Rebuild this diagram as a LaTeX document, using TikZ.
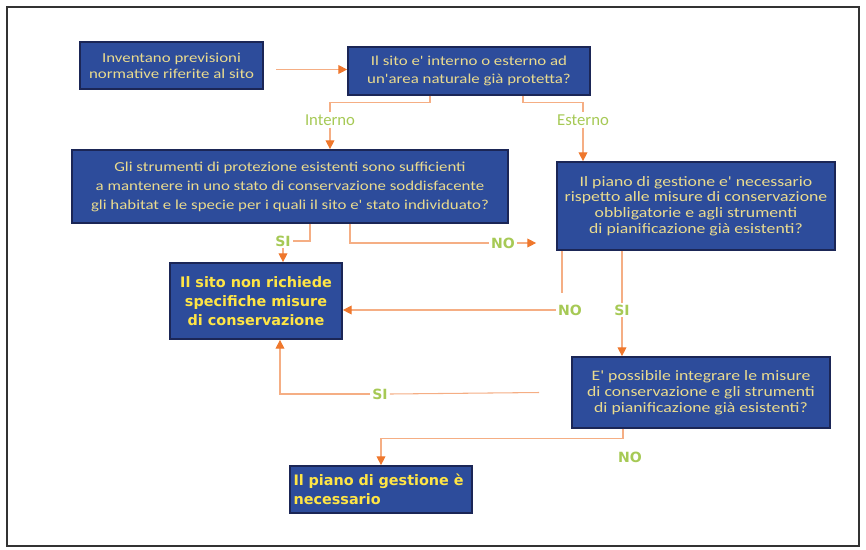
\documentclass[tikz,border=0pt]{standalone}
\usepackage{fontspec}
\setmainfont{Carlito}
\newfontfamily\boxfont[FakeStretch=1.23]{Carlito}
\newfontfamily\heavyfont{DejaVu Sans}
\usetikzlibrary{arrows.meta,positioning,calc}

\definecolor{boxblue}{HTML}{2D4C9B}
\definecolor{boxedge}{HTML}{1B2656}
\definecolor{paleyellow}{HTML}{EADB8E}
\definecolor{brightyellow}{HTML}{FFE545}
\definecolor{labelgreen}{HTML}{A6C955}
\definecolor{linecol}{HTML}{F5AE84}
\definecolor{tipcol}{HTML}{EF772C}

\begin{document}
\begin{tikzpicture}[x=0.02cm, y=-0.02cm,
    box/.style={rectangle, draw=boxedge, line width=1pt, fill=boxblue, text=paleyellow, align=center, inner sep=0pt, font=\boxfont\fontsize{7.8}{10.8}\selectfont},
    widebox/.style={box, font=\boxfont\fontsize{8.2}{9}\selectfont},
    hbox/.style={box, text=brightyellow, font=\heavyfont\bfseries\fontsize{8.2}{10.8}\selectfont},
    lbl/.style={text=labelgreen, inner sep=1pt, font=\fontsize{9.5}{10}\selectfont},
    hlbl/.style={lbl, font=\heavyfont\bfseries\fontsize{8}{10}\selectfont},
    line/.style={draw=linecol, line width=0.6pt},
    arrow/.style={line, -{Triangle[length=5pt, width=5pt, color=tipcol]}}
]
\useasboundingbox (0,0) rectangle (866,549);
\draw[black!80, line width=0.8pt] (7,7) rectangle (859,546);

% Boxes
\node[box, font=\boxfont\fontsize{7.8}{9}\selectfont, minimum width=3.66cm, minimum height=0.94cm] (inv) at (171.5,65.5) {Inventano previsioni\\normative riferite al sito};
\node[box, font=\boxfont\fontsize{7.8}{10}\selectfont, minimum width=4.84cm, minimum height=0.96cm] (area) at (469,71) {Il sito e' interno o esterno ad\\un'area naturale già protetta?};
\node[box, minimum width=8.72cm, minimum height=1.46cm] (strum) at (290,186.5) {Gli strumenti di protezione esistenti sono sufficienti\\a mantenere in uno stato di conservazione soddisfacente\\gli habitat e le specie per i quali il sito e' stato individuato?};
\node[widebox, minimum width=5.56cm, minimum height=1.76cm] (piano) at (696,206) {Il piano di gestione e' necessario\\rispetto alle misure di conservazione\\obbligatorie e agli strumenti\\di pianificazione già esistenti?};
\node[hbox, minimum width=3.44cm, minimum height=1.52cm] (nomis) at (256,301) {Il sito non richiede\\specifiche misure\\di conservazione};
\node[widebox, minimum width=5.16cm, minimum height=1.42cm] (integ) at (701,392.5) {E' possibile integrare le misure\\di conservazione e gli strumenti\\di pianificazione già esistenti?};
\node[hbox, align=left, text width=3.5cm, inner xsep=0.07cm, minimum height=0.94cm] (necess) at (381,489.5) {Il piano di gestione è\\necessario};

% Labels
\node[lbl] (interno) at (330,120) {Interno};
\node[lbl] (esterno) at (583,120) {Esterno};
\node[hlbl] (siA) at (283,241) {SI};
\node[hlbl] (noA) at (503,243) {NO};
\node[hlbl] (noB) at (570,310) {NO};
\node[hlbl] (siB) at (622,310) {SI};
\node[hlbl] (siC) at (380,394) {SI};
\node[hlbl] (noC) at (630,457) {NO};

\coordinate (toPiano) at ($(piano.west |- noA)+(-20,0)$);
\coordinate (fromInteg) at ($(integ.west)+(-32,0)$);

% Arrows
\draw[arrow, shorten <=7pt] ($(inv.east)+(0,4)$) -- ($(inv.east -| area.west)+(0,4)$);
\draw[line] ($(area.south)+(-39,0)$) -- ++(0,7) -| (interno.north);
\draw[arrow] (interno.south) -- (interno.south |- strum.north);
\draw[line] ($(area.south)+(54,0)$) -- ++(0,7) -| (esterno.north);
\draw[arrow] (esterno.south) -- (esterno.south |- piano.north);
\draw[line] ($(strum.south)+(20,0)$) |- (siA.east);
\draw[arrow] (siA.south) -- (siA.south |- nomis.north);
\draw[line] ($(strum.south)+(60,0)$) |- (noA.west);
\draw[arrow] (noA.east) -- (toPiano);
\draw[line] ($(piano.south)+(-134,0)$) -- ++(0,42);
\draw[arrow] (noB.west) -- (noB.west -| nomis.east);
\draw[line] ($(piano.south)+(-74,0)$) -- (siB.north);
\draw[arrow] (siB.south) -- (siB.south |- integ.north);
\draw[line] (fromInteg) -- (siC.east);
\draw[arrow] (siC.west) -| ($(nomis.south)+(24,0)$);
\draw[arrow] ($(integ.south)+(-78,0)$) -- ++(0,10) -| (necess.north);

\end{tikzpicture}
\end{document}
